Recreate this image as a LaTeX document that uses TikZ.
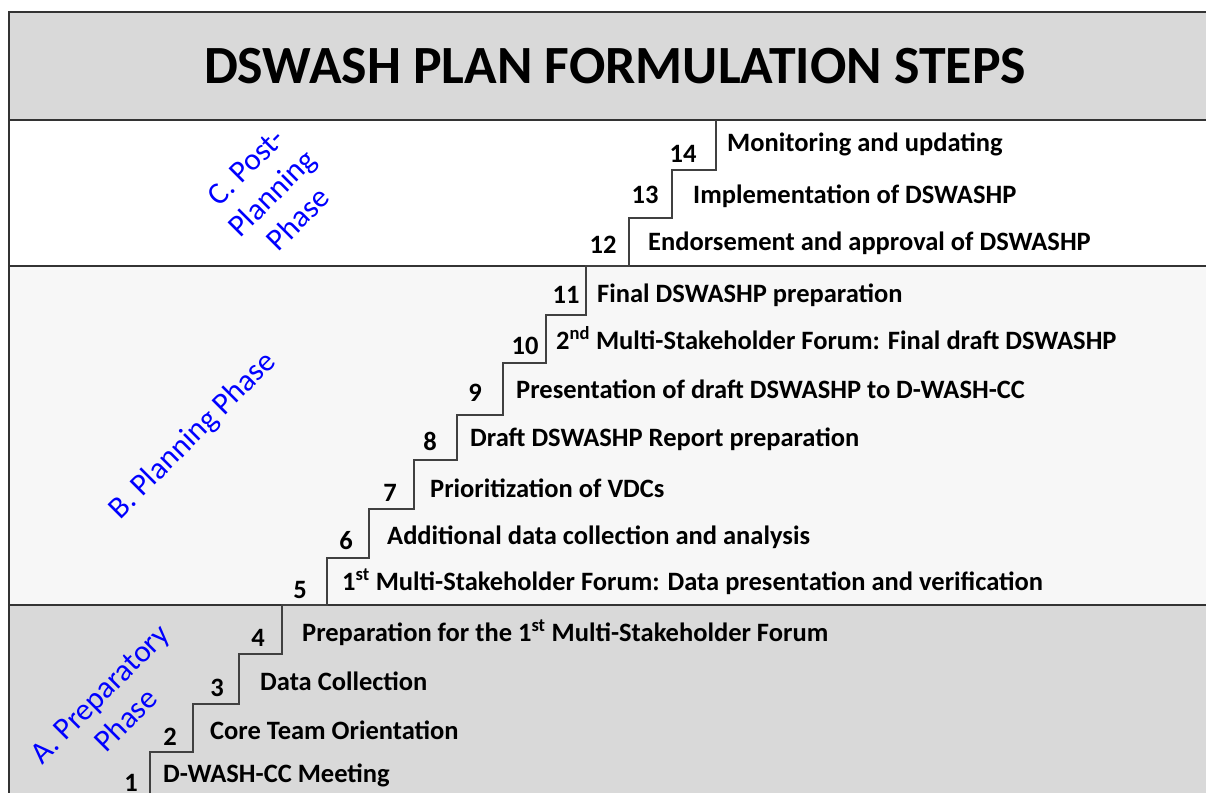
\documentclass[tikz,border=0pt]{standalone}
\usepackage{fontspec}
\setmainfont{Carlito}
\begin{document}
\begin{tikzpicture}[x=1pt,y=-1pt,
  steptext/.style={anchor=base west,inner sep=0pt,font=\fontsize{26.5}{30}\selectfont\bfseries},
  stepnum/.style={anchor=base,inner sep=0pt,font=\fontsize{26.5}{30}\selectfont\bfseries},
  phase/.style={text=blue,rotate=45,align=center,inner sep=0pt,font=\fontsize{31}{37}\selectfont},
  border/.style={draw=black!80,line width=2pt},
  stair/.style={draw=black!75,line width=1.3pt}]
\useasboundingbox (0,0) rectangle (1206,793);
% backgrounds
\fill[black!15] (9,12) rectangle (1206,120);
\fill[white] (9,120) rectangle (1206,266);
\fill[black!3] (9,266) rectangle (1206,605);
\fill[black!15] (9,605) rectangle (1206,793);
% borders
\draw[border] (1206,12) -- (9,12) -- (9,793);
\draw[border] (9,120) -- (1206,120);
\draw[border] (9,266) -- (1206,266);
\draw[border] (9,605) -- (1206,605);
% stairs
\draw[stair] (150,793) -- (150,752) -- (193,752) -- (193,704) -- (239,704) -- (239,654) -- (282,654) -- (282,605)
  -- (327,605) -- (327,558) -- (369,558) -- (369,509) -- (414,509) -- (414,460) -- (457,460) -- (457,415)
  -- (503,415) -- (503,363) -- (546,363) -- (546,315) -- (586,315) -- (586,266) -- (629,266) -- (629,218)
  -- (672,218) -- (672,170) -- (716,170) -- (716,120);
% title
\node[inner sep=0pt,anchor=base,font=\fontsize{53.8}{58}\selectfont\bfseries] (title) at (615,83.5) {DSWASH PLAN FORMULATION STEPS};
% phase labels
\node[phase] (phC) at (272,193) {C. Post-\\Planning\\Phase};
\node[phase] (phB) at (193,436) {B. Planning Phase};
\node[phase] (phA) at (113,707) {A. Preparatory\\Phase};
% numbers
\node[stepnum] (n1) at (131,791) {1};
\node[stepnum] (n2) at (170,745) {2};
\node[stepnum] (n3) at (217,696) {3};
\node[stepnum] (n4) at (258,646) {4};
\node[stepnum] (n5) at (300,598) {5};
\node[stepnum] (n6) at (346,549) {6};
\node[stepnum] (n7) at (390,501) {7};
\node[stepnum] (n8) at (430,450) {8};
\node[stepnum] (n9) at (475,401) {9};
\node[stepnum] (n10) at (525,354) {10};
\node[stepnum] (n11) at (566,303) {11};
\node[stepnum] (n12) at (603,253) {12};
\node[stepnum] (n13) at (645,203) {13};
\node[stepnum] (n14) at (683,162) {14};
% step texts
\node[steptext] (s1) at (163,782) {D-WASH-CC Meeting};
\node[steptext] (s2) at (210,739) {Core Team Orientation};
\node[steptext] (s3) at (260,690) {Data Collection};
\node[steptext] (s4) at (302,641) {Preparation for the 1\textsuperscript{st} Multi-Stakeholder Forum};
\node[steptext] (s5) at (342,590) {1\textsuperscript{st} Multi-Stakeholder Forum: Data presentation and verification};
\node[steptext] (s6) at (387,544) {Additional data collection and analysis};
\node[steptext] (s7) at (430,497) {Prioritization of VDCs};
\node[steptext] (s8) at (470,446) {Draft DSWASHP Report preparation};
\node[steptext] (s9) at (516,398) {Presentation of draft DSWASHP to D-WASH-CC};
\node[steptext] (s10) at (556,349) {2\textsuperscript{nd} Multi-Stakeholder Forum: Final draft DSWASHP};
\node[steptext] (s11) at (597,302) {Final DSWASHP preparation};
\node[steptext] (s12) at (648,250) {Endorsement and approval of DSWASHP};
\node[steptext] (s13) at (693,203) {Implementation of DSWASHP};
\node[steptext] (s14) at (727,151) {Monitoring and updating};
\end{tikzpicture}
\end{document}
